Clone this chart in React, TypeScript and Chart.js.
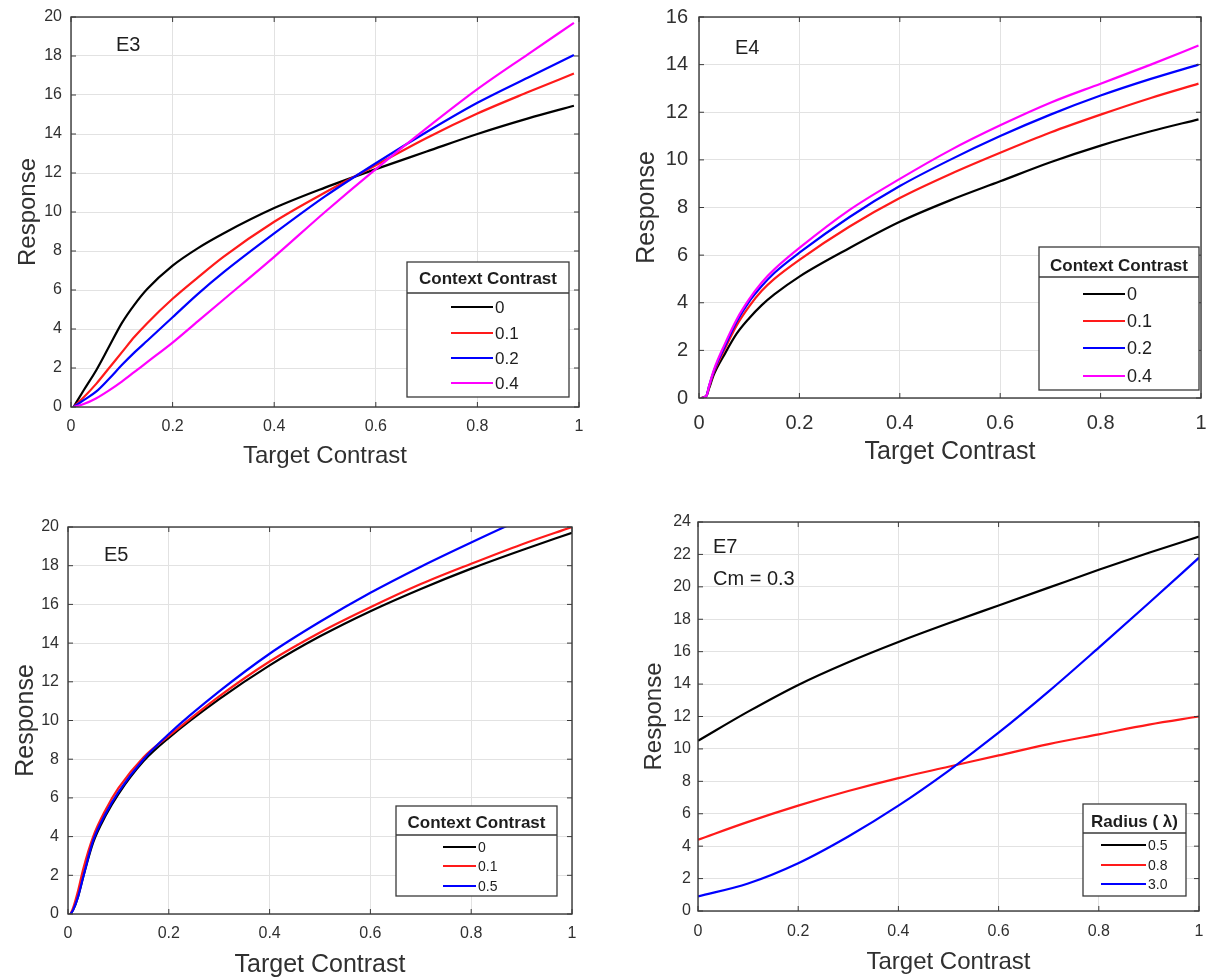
import React, { useEffect, useRef } from "react";
import { Chart, registerables } from "chart.js";

Chart.register(...registerables);

// ---------------- data ----------------
const xTicks = [0, 0.2, 0.4, 0.6, 0.8, 1];

// E3
const e3Labels = ["0", "0.1", "0.2", "0.4"];
const e3X = [0.005, 0.025, 0.05, 0.075, 0.1, 0.125, 0.15, 0.2, 0.25, 0.3, 0.4, 0.5, 0.6, 0.7, 0.8, 0.9, 0.99];
const e3C0 = [0, 0.86, 1.9, 3.1, 4.3, 5.25, 6.05, 7.25, 8.15, 8.9, 10.2, 11.25, 12.2, 13.1, 14.0, 14.8, 15.45];
const e3C01 = [0, 0.5, 1.2, 2.0, 2.8, 3.6, 4.3, 5.55, 6.65, 7.7, 9.5, 11.0, 12.4, 13.8, 15.05, 16.15, 17.1];
const e3C02 = [0, 0.35, 0.8, 1.45, 2.15, 2.8, 3.4, 4.6, 5.8, 6.9, 8.9, 10.8, 12.5, 14.1, 15.6, 16.9, 18.05];
const e3C04 = [0, 0.15, 0.45, 0.85, 1.3, 1.8, 2.3, 3.3, 4.4, 5.5, 7.7, 10.0, 12.2, 14.3, 16.3, 18.1, 19.7];

// E4
const e4Labels = ["0", "0.1", "0.2", "0.4"];
const e4X = [0.005, 0.015, 0.02, 0.03, 0.05, 0.075, 0.1, 0.125, 0.15, 0.2, 0.3, 0.4, 0.5, 0.6, 0.7, 0.8, 0.9, 0.995];
const e4C0 = [0, 0.1, 0.4, 1.0, 1.8, 2.7, 3.35, 3.9, 4.35, 5.1, 6.3, 7.4, 8.3, 9.1, 9.9, 10.6, 11.2, 11.7];
const e4C01 = [0, 0.1, 0.45, 1.1, 2.0, 3.05, 3.85, 4.5, 5.0, 5.8, 7.2, 8.4, 9.4, 10.3, 11.15, 11.9, 12.6, 13.2];
const e4C02 = [0, 0.1, 0.5, 1.15, 2.1, 3.2, 4.05, 4.7, 5.25, 6.1, 7.6, 8.9, 10.0, 11.0, 11.9, 12.7, 13.4, 14.0];
const e4C04 = [0, 0.1, 0.5, 1.2, 2.2, 3.3, 4.15, 4.85, 5.4, 6.3, 7.9, 9.2, 10.4, 11.45, 12.4, 13.2, 14.0, 14.8];

// E5
const e5Labels = ["0", "0.1", "0.5"];
const e5X = [0.005, 0.01, 0.02, 0.03, 0.05, 0.075, 0.1, 0.15, 0.2, 0.3, 0.4, 0.5, 0.6, 0.7, 0.8, 0.9, 1.0];
const e5C0 = [0, 0.2, 0.9, 1.9, 3.7, 5.1, 6.2, 7.9, 9.1, 11.1, 12.85, 14.35, 15.65, 16.8, 17.85, 18.8, 19.7];
const e5C01 = [0, 0.3, 1.2, 2.3, 4.0, 5.4, 6.5, 8.1, 9.2, 11.25, 13.05, 14.55, 15.85, 17.05, 18.1, 19.1, 20.0];
const e5C05 = [0, 0.2, 0.9, 1.9, 3.8, 5.2, 6.3, 8.0, 9.3, 11.5, 13.45, 15.1, 16.6, 17.95, 19.2, 20.4, 21.5];

// E7
const e7Labels = ["0.5", "0.8", "3.0"];
const e7X = [0, 0.1, 0.2, 0.3, 0.4, 0.5, 0.6, 0.7, 0.8, 0.9, 1.0];
const e7R05 = [10.5, 12.3, 13.95, 15.35, 16.6, 17.75, 18.85, 19.95, 21.05, 22.1, 23.1];
const e7R08 = [4.4, 5.5, 6.5, 7.4, 8.2, 8.9, 9.6, 10.3, 10.9, 11.5, 12.0];
const e7R30 = [0.9, 1.7, 2.95, 4.6, 6.5, 8.65, 11.0, 13.55, 16.25, 19.0, 21.8];

// ---------------- styles ----------------
const FONT = "'Liberation Sans', Arial, Helvetica, sans-serif";
const INK = "#303030";
const GRID = "#e2e2e2";
const FRAME = "#3a3a3a";
const BLACK = "#000000";
const RED = "#ff1a1a";
const BLUE = "#0000ff";
const MAGENTA = "#ff00ff";

type Series = { label: string; color: string; xs: number[]; ys: number[] };
type Legend = {
  title: string;
  l: number; r: number; t: number; b: number;
  titleY: number; sepY: number; entryY: number[];
  lineX0: number; lineX1: number; labelX: number;
  titleSize: number; labelSize: number;
};
type Spec = {
  key: string;
  canvas: { x: number; y: number; w: number; h: number };
  area: { l: number; t: number; r: number; b: number };
  yMax: number;
  yTickRight: number;
  xTickCenter: number;
  tickFont: number;
  titleFont: number;
  yTitleX: number;
  xTitleY: number;
  notes: { text: string; x: number; y: number; size: number }[];
  legend: Legend;
  series: Series[];
};

const PANELS: Spec[] = [
  {
    key: "E3",
    canvas: { x: 0, y: 0, w: 600, h: 492 },
    area: { l: 71, t: 17, r: 579, b: 407 },
    yMax: 20,
    yTickRight: 62,
    xTickCenter: 427,
    tickFont: 16,
    titleFont: 24,
    yTitleX: 28,
    xTitleY: 456,
    notes: [{ text: "E3", x: 116, y: 45, size: 20 }],
    legend: {
      title: "Context Contrast",
      l: 407, r: 569, t: 262, b: 397,
      titleY: 279, sepY: 293, entryY: [307, 333, 358, 383],
      lineX0: 451, lineX1: 493, labelX: 495,
      titleSize: 17, labelSize: 17,
    },
    series: [
      { label: e3Labels[0], color: BLACK, xs: e3X, ys: e3C0 },
      { label: e3Labels[1], color: RED, xs: e3X, ys: e3C01 },
      { label: e3Labels[2], color: BLUE, xs: e3X, ys: e3C02 },
      { label: e3Labels[3], color: MAGENTA, xs: e3X, ys: e3C04 },
    ],
  },
  {
    key: "E4",
    canvas: { x: 600, y: 0, w: 609, h: 492 },
    area: { l: 699, t: 17, r: 1201, b: 398 },
    yMax: 16,
    yTickRight: 688,
    xTickCenter: 423,
    tickFont: 20,
    titleFont: 25,
    yTitleX: 647,
    xTitleY: 452,
    notes: [{ text: "E4", x: 735, y: 48, size: 20 }],
    legend: {
      title: "Context Contrast",
      l: 1039, r: 1199, t: 247, b: 390,
      titleY: 266, sepY: 277, entryY: [294, 321, 348, 376],
      lineX0: 1083, lineX1: 1125, labelX: 1127,
      titleSize: 17, labelSize: 18,
    },
    series: [
      { label: e4Labels[0], color: BLACK, xs: e4X, ys: e4C0 },
      { label: e4Labels[1], color: RED, xs: e4X, ys: e4C01 },
      { label: e4Labels[2], color: BLUE, xs: e4X, ys: e4C02 },
      { label: e4Labels[3], color: MAGENTA, xs: e4X, ys: e4C04 },
    ],
  },
  {
    key: "E5",
    canvas: { x: 0, y: 492, w: 600, h: 487 },
    area: { l: 68, t: 527, r: 572, b: 914 },
    yMax: 20,
    yTickRight: 59,
    xTickCenter: 934,
    tickFont: 16,
    titleFont: 25,
    yTitleX: 26,
    xTitleY: 965,
    notes: [{ text: "E5", x: 104, y: 555, size: 20 }],
    legend: {
      title: "Context Contrast",
      l: 396, r: 557, t: 806, b: 896,
      titleY: 823, sepY: 835, entryY: [847, 866, 886],
      lineX0: 443, lineX1: 476, labelX: 478,
      titleSize: 17, labelSize: 14,
    },
    series: [
      { label: e5Labels[0], color: BLACK, xs: e5X, ys: e5C0 },
      { label: e5Labels[1], color: RED, xs: e5X, ys: e5C01 },
      { label: e5Labels[2], color: BLUE, xs: e5X, ys: e5C05 },
    ],
  },
  {
    key: "E7",
    canvas: { x: 600, y: 492, w: 609, h: 487 },
    area: { l: 698, t: 522, r: 1199, b: 911 },
    yMax: 24,
    yTickRight: 691,
    xTickCenter: 932,
    tickFont: 16,
    titleFont: 24,
    yTitleX: 654,
    xTitleY: 962,
    notes: [
      { text: "E7", x: 713, y: 547, size: 20 },
      { text: "Cm = 0.3", x: 713, y: 579, size: 20 },
    ],
    legend: {
      title: "Radius ( \u03bb)",
      l: 1083, r: 1186, t: 804, b: 896,
      titleY: 822, sepY: 833, entryY: [845, 865, 884],
      lineX0: 1101, lineX1: 1146, labelX: 1148,
      titleSize: 17, labelSize: 14,
    },
    series: [
      { label: e7Labels[0], color: BLACK, xs: e7X, ys: e7R05 },
      { label: e7Labels[1], color: RED, xs: e7X, ys: e7R08 },
      { label: e7Labels[2], color: BLUE, xs: e7X, ys: e7R30 },
    ],
  },
];

function decoPlugin(spec: Spec) {
  return {
    id: "deco" + spec.key,
    afterDraw(chart: any) {
      const { ctx, chartArea: a, scales } = chart;
      const ox = spec.canvas.x;
      const oy = spec.canvas.y;
      const seg = (x0: number, y0: number, x1: number, y1: number) => {
        ctx.beginPath();
        ctx.moveTo(x0, y0);
        ctx.lineTo(x1, y1);
        ctx.stroke();
      };
      ctx.save();
      // inward tick marks on all four sides
      ctx.strokeStyle = FRAME;
      ctx.lineWidth = 1;
      const tl = 5;
      scales.x.ticks.forEach((t: any) => {
        const px = scales.x.getPixelForValue(t.value);
        seg(px, a.bottom, px, a.bottom - tl);
        seg(px, a.top, px, a.top + tl);
      });
      scales.y.ticks.forEach((t: any) => {
        const py = scales.y.getPixelForValue(t.value);
        seg(a.left, py, a.left + tl, py);
        seg(a.right, py, a.right - tl, py);
      });
      // box frame
      ctx.lineWidth = 1.4;
      ctx.strokeRect(a.left, a.top, a.right - a.left, a.bottom - a.top);

      // annotations
      ctx.fillStyle = "#1e1e1e";
      ctx.textAlign = "left";
      ctx.textBaseline = "middle";
      spec.notes.forEach((n) => {
        ctx.font = `${n.size}px ${FONT}`;
        ctx.fillText(n.text, n.x - ox, n.y - oy);
      });

      // legend box
      const lg = spec.legend;
      ctx.fillStyle = "#ffffff";
      ctx.fillRect(lg.l - ox, lg.t - oy, lg.r - lg.l, lg.b - lg.t);
      ctx.strokeStyle = FRAME;
      ctx.lineWidth = 1.3;
      ctx.strokeRect(lg.l - ox, lg.t - oy, lg.r - lg.l, lg.b - lg.t);
      seg(lg.l - ox, lg.sepY - oy, lg.r - ox, lg.sepY - oy);
      ctx.fillStyle = "#1e1e1e";
      ctx.font = `bold ${lg.titleSize}px ${FONT}`;
      ctx.textAlign = "center";
      ctx.fillText(lg.title, (lg.l + lg.r) / 2 - ox, lg.titleY - oy);
      spec.series.forEach((s, i) => {
        const y = lg.entryY[i] - oy;
        ctx.strokeStyle = s.color;
        ctx.lineWidth = 2.2;
        seg(lg.lineX0 - ox, y, lg.lineX1 - ox, y);
        ctx.fillStyle = "#1e1e1e";
        ctx.font = `${lg.labelSize}px ${FONT}`;
        ctx.textAlign = "left";
        ctx.fillText(s.label, lg.labelX - ox, y + 1);
      });
      ctx.restore();
    },
  };
}

function zeroPadding(s: any) {
  s.paddingLeft = 0;
  s.paddingRight = 0;
  s.paddingTop = 0;
  s.paddingBottom = 0;
}

function buildConfig(spec: Spec): any {
  const { canvas: c, area } = spec;
  const tickLH = spec.tickFont;
  const titleLH = spec.titleFont;
  const fmt = (v: number) => String(Math.round(v * 10) / 10);
  return {
    type: "line",
    data: {
      datasets: spec.series.map((s, i) => ({
        label: s.label,
        data: s.xs.map((x, j) => ({ x, y: s.ys[j] })),
        borderColor: s.color,
        backgroundColor: s.color,
        borderWidth: 2.2,
        pointRadius: 0,
        fill: false,
        cubicInterpolationMode: "monotone",
        order: -i,
      })),
    },
    options: {
      animation: false,
      responsive: false,
      maintainAspectRatio: false,
      devicePixelRatio: 1,
      events: [],
      layout: {
        padding: { left: 0, top: area.t - c.y, right: c.x + c.w - area.r, bottom: 0 },
      },
      plugins: {
        legend: { display: false },
        tooltip: { enabled: false },
        title: { display: false },
      },
      scales: {
        x: {
          type: "linear",
          min: 0,
          max: 1,
          afterBuildTicks: (s: any) => {
            s.ticks = xTicks.map((v) => ({ value: v }));
          },
          ticks: {
            autoSkip: false,
            maxRotation: 0,
            padding: spec.xTickCenter - area.b - tickLH / 2,
            color: INK,
            font: { family: FONT, size: spec.tickFont, lineHeight: 1 },
            callback: (v: number) => fmt(v),
          },
          grid: { color: GRID, lineWidth: 1, drawTicks: false },
          border: { display: false },
          title: {
            display: true,
            text: "Target Contrast",
            color: INK,
            font: { family: FONT, size: spec.titleFont, lineHeight: 1 },
            padding: { top: 0, bottom: c.y + c.h - spec.xTitleY - titleLH / 2 },
          },
          afterFit: (s: any) => {
            s.height = c.y + c.h - area.b;
            zeroPadding(s);
          },
        },
        y: {
          type: "linear",
          min: 0,
          max: spec.yMax,
          ticks: {
            stepSize: 2,
            autoSkip: false,
            padding: area.l - spec.yTickRight,
            color: INK,
            font: { family: FONT, size: spec.tickFont, lineHeight: 1 },
          },
          grid: { color: GRID, lineWidth: 1, drawTicks: false },
          border: { display: false },
          title: {
            display: true,
            text: "Response",
            color: INK,
            font: { family: FONT, size: spec.titleFont, lineHeight: 1 },
            padding: { top: spec.yTitleX - c.x - titleLH / 2, bottom: 0 },
          },
          afterFit: (s: any) => {
            s.width = area.l - c.x;
            zeroPadding(s);
          },
        },
      },
    },
    plugins: [decoPlugin(spec)],
  };
}

function Panel({ spec }: { spec: Spec }) {
  const ref = useRef<HTMLCanvasElement>(null);
  useEffect(() => {
    if (!ref.current) return;
    const chart = new Chart(ref.current, buildConfig(spec));
    return () => chart.destroy();
  }, [spec]);
  const { x, y, w, h } = spec.canvas;
  return (
    <canvas
      ref={ref}
      width={w}
      height={h}
      style={{ position: "absolute", left: x, top: y, width: w, height: h }}
    />
  );
}

export default function App() {
  return (
    <div
      style={{
        position: "absolute",
        left: 0,
        top: 0,
        width: 1209,
        height: 979,
        background: "#ffffff",
        overflow: "hidden",
      }}
    >
      {PANELS.map((p) => (
        <Panel key={p.key} spec={p} />
      ))}
    </div>
  );
}
